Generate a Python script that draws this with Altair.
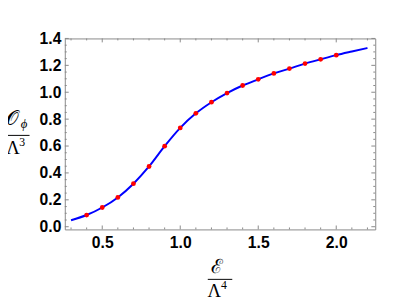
import altair as alt
import pandas as pd

pt_x = [0.4, 0.5, 0.6, 0.7, 0.8, 0.9, 1.0, 1.1, 1.2, 1.3, 1.4, 1.5, 1.6, 1.7, 1.8, 1.9, 2.0]
pt_y = [0.087, 0.143, 0.218, 0.320, 0.448, 0.599, 0.735, 0.843, 0.926, 0.994, 1.050, 1.096, 1.140, 1.176, 1.213, 1.245, 1.276]

line_x = [0.3] + pt_x + [2.1, 2.2]
line_y = [0.048] + pt_y + [1.303, 1.329]

x_major = [0.5, 1.0, 1.5, 2.0]
x_minor = [0.3, 0.4, 0.6, 0.7, 0.8, 0.9, 1.1, 1.2, 1.3, 1.4, 1.6, 1.7, 1.8, 1.9, 2.1, 2.2]
y_major = [0.0, 0.2, 0.4, 0.6, 0.8, 1.0, 1.2, 1.4]
y_minor = [0.05, 0.1, 0.15, 0.25, 0.3, 0.35, 0.45, 0.5, 0.55, 0.65, 0.7, 0.75,
           0.85, 0.9, 0.95, 1.05, 1.1, 1.15, 1.25, 1.3, 1.35]

x_dom = [0.26, 2.25]
y_dom = [-0.02, 1.4]
W, H = 317, 195

xs = alt.Scale(domain=x_dom, nice=False, zero=False)
ys = alt.Scale(domain=y_dom, nice=False, zero=False)

xaxis = alt.Axis(values=x_major, format=".1f", labelPadding=5, title=None)
yaxis = alt.Axis(values=y_major, format=".1f", labelPadding=4, title=None)

line_df = pd.DataFrame({"x": line_x, "y": line_y})
pt_df = pd.DataFrame({"x": pt_x, "y": pt_y})

line = alt.Chart(line_df).mark_line(color="#0000ff", strokeWidth=2, interpolate="monotone").encode(
    x=alt.X("x:Q", scale=xs, axis=xaxis),
    y=alt.Y("y:Q", scale=ys, axis=yaxis),
)
pts = alt.Chart(pt_df).mark_circle(color="#ff0000", size=24, opacity=1).encode(
    x=alt.X("x:Q", scale=xs, axis=xaxis),
    y=alt.Y("y:Q", scale=ys, axis=yaxis),
)

tick_color = "#888888"

def xticks(vals, length):
    df = pd.DataFrame({"x": vals})
    b = alt.Chart(df).mark_rule(color=tick_color, strokeWidth=1).encode(
        x=alt.X("x:Q", scale=xs, axis=xaxis), y=alt.value(H), y2=alt.value(H - length))
    t = alt.Chart(df).mark_rule(color=tick_color, strokeWidth=1).encode(
        x=alt.X("x:Q", scale=xs, axis=xaxis), y=alt.value(0), y2=alt.value(length))
    return [b, t]

def yticks(vals, length):
    df = pd.DataFrame({"y": vals})
    l = alt.Chart(df).mark_rule(color=tick_color, strokeWidth=1).encode(
        y=alt.Y("y:Q", scale=ys, axis=yaxis), x=alt.value(0), x2=alt.value(length))
    r = alt.Chart(df).mark_rule(color=tick_color, strokeWidth=1).encode(
        y=alt.Y("y:Q", scale=ys, axis=yaxis), x=alt.value(W), x2=alt.value(W - length))
    return [l, r]

ticks = xticks(x_major, 4) + xticks(x_minor, 2) + yticks(y_major, 4) + yticks(y_minor, 2)

math_font = "Liberation Serif"
one = pd.DataFrame({"a": [0]})

def txt(s, x, y, size, italic=False):
    return alt.Chart(one).mark_text(text=s, font=math_font, fontSize=size,
                                    fontStyle="italic" if italic else "normal",
                                    color="black", align="center", baseline="middle").encode(
        x=alt.value(x), y=alt.value(y))

def bar(x1, x2, y):
    return alt.Chart(one).mark_rule(color="black", strokeWidth=1).encode(
        x=alt.value(x1), x2=alt.value(x2), y=alt.value(y))

labels = [
    # y title  O_phi / Lambda^3
    txt("𝒪", -53, 82, 20),
    txt("ϕ", -41.5, 87, 13, italic=True),
    bar(-62, -36, 99),
    txt("Λ", -53, 112, 19),
    txt("3", -43.5, 106, 12),
    # x title  E / Lambda^4
    txt("ℰ", 155, 233, 20),
    bar(146, 171, 246),
    txt("Λ", 152.5, 258.5, 19),
    txt("4", 162.5, 252, 12),
]

chart = alt.layer(line, pts, *ticks, *labels).properties(
    width=W, height=H,
    background="white",
    autosize=alt.AutoSizeParams(type="none"),
    padding={"left": 58, "top": 28, "right": 12, "bottom": 70},
).configure_view(
    stroke="#888888", strokeWidth=1
).configure_axis(
    ticks=False, domain=False, grid=False,
    labelFont="Liberation Sans", labelFontWeight="bold", labelFontSize=16,
    labelColor="black", labelOverlap=False, labelFlush=False,
)

chart.save("out.html", embed_options={"renderer": "svg", "actions": False})
